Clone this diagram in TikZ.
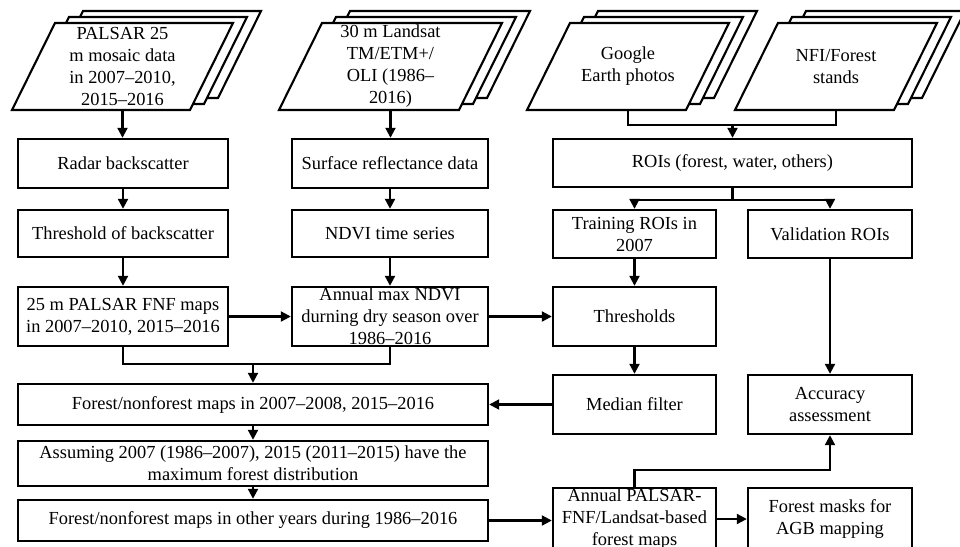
\documentclass[tikz,border=0pt]{standalone}
\usepackage{fontspec}
\setmainfont{Liberation Serif}
\usetikzlibrary{arrows.meta}
\newcommand\ff{\fontsize{9.2}{11}\selectfont}
% #1 name, #2 centre x of front sheet, #3 sheet width, #4 text
\newcommand\docstack[4]{%
  \foreach \k in {2,1,0}{%
    \draw[sheet] ({#2-#3/2+21.5+14*\k},{23-6*\k}) -- ++(#3,0) -- ++(-43,87) -- ++(-#3,0) -- cycle;}
  \node[stacktxt] (#1) at (#2,66.5) {#4};
}
\begin{document}
\begin{tikzpicture}[x=0.5pt,y=-0.5pt,
  box/.style={draw, line width=1.2pt, inner sep=0pt, align=center, font=\ff},
  ln/.style={line width=1.05pt},
  arr/.style={ln, -{Triangle[length=5pt,width=5pt]}},
  sheet/.style={draw, fill=white, line width=1.05pt},
  stacktxt/.style={inner sep=0pt, align=center, font=\ff, minimum height=43.5pt}]
\useasboundingbox (0,0) rectangle (960,547);
\clip (0,0) rectangle (960,547);

\docstack{palsar}{122.5}{178}{PALSAR 25\\m mosaic data\\in 2007–2010,\\2015–2016}
\docstack{landsat}{390.5}{180}{30 m Landsat\\TM/ETM+/\\OLI (1986–\\2016)}
\docstack{google}{628}{159}{Google\\Earth photos}
\docstack{nfi}{836}{159}{NFI/Forest\\stands}

\node[box, minimum width=105pt, minimum height=24.5pt] (radar) at (123,163.5) {Radar backscatter};
\node[box, minimum width=105pt, minimum height=23.5pt] (thb) at (123,233.5) {Threshold of backscatter};
\node[box, minimum width=105pt, minimum height=29.5pt] (fnf) at (123,316.5) {25 m PALSAR FNF maps\\in 2007–2010, 2015–2016};

\node[box, minimum width=98pt, minimum height=24.5pt] (sr) at (390,163.5) {Surface reflectance data};
\node[box, minimum width=98pt, minimum height=23.5pt] (ndvi) at (390,233.5) {NDVI time series};
\node[box, minimum width=98pt, minimum height=29.5pt,
      label={[align=center, font=\ff, inner sep=0pt]center:Annual max NDVI\\durning dry season over\\1986–2016}] (annmax) at (390,316.5) {};

\node[box, minimum width=179.5pt, minimum height=24pt] (rois) at (732.5,163) {ROIs (forest, water, others)};
\node[box, minimum width=81.5pt, minimum height=24pt] (train) at (634.5,234) {Training ROIs in\\2007};
\node[box, minimum width=82pt, minimum height=24pt] (valid) at (830,234) {Validation ROIs};
\node[box, minimum width=81.5pt, minimum height=29.5pt] (thr) at (634.5,316.5) {Thresholds};
\node[box, minimum width=81.5pt, minimum height=29.5pt] (median) at (634.5,404.5) {Median filter};
\node[box, minimum width=82pt, minimum height=29.5pt] (acc) at (830,404.5) {Accuracy\\assessment};
\node[box, minimum width=81.5pt, minimum height=31pt] (annpal) at (634.5,519) {Annual PALSAR-\\FNF/Landsat-based\\forest maps};
\node[box, minimum width=82pt, minimum height=31pt] (masks) at (830,519) {Forest masks for\\AGB mapping};

\node[box, minimum width=235pt, minimum height=20.5pt] (fnfall) at (253,404.5) {Forest/nonforest maps in 2007–2008, 2015–2016};
\node[box, minimum width=235pt, minimum height=22.5pt] (assume) at (253,463.5) {Assuming 2007 (1986–2007), 2015 (2011–2015) have the\\maximum forest distribution};
\node[box, minimum width=235pt, minimum height=20.5pt] (other) at (253,520.5) {Forest/nonforest maps in other years during 1986–2016};

% connectors
\draw[arr] (palsar.south) -- (palsar.south |- radar.north);
\draw[arr] (radar) -- (thb);
\draw[arr] (thb) -- (fnf);
\draw[arr] (landsat.south) -- (landsat.south |- sr.north);
\draw[arr] (sr) -- (ndvi);
\draw[arr] (ndvi) -- (annmax);

\path (rois.north) ++(0,-13) coordinate (j1);
\draw[ln] (google.south) |- (j1) -| (nfi.south);
\draw[arr] (j1) -- (rois.north);

\path (rois.south) ++(0,12) coordinate (j2);
\draw[ln] (rois.south) -- (j2);
\draw[arr] (j2) -| (train.north);
\draw[arr] (j2) -| (valid.north);
\draw[arr] (train) -- (thr);
\draw[arr] (valid) -- (acc);
\draw[arr] (thr) -- (median);

\draw[arr] (fnf.east) -- (annmax.west);
\draw[arr] (annmax.east) -- (thr.west);

\path (fnfall.north) ++(0,-19) coordinate (j3);
\draw[ln] (fnf.south) |- (j3) -| (annmax.south);
\draw[arr] (j3) -- (fnfall.north);
\draw[arr] (median.west) -- (fnfall.east);
\draw[arr] (fnfall) -- (assume);
\draw[arr] (assume) -- (other);
\draw[arr] (other.east) -- (other.east -| annpal.west);

\path (acc.south) ++(0,35) coordinate (j4);
\draw[arr] (annpal.north) |- (j4) -- (acc.south);
\draw[arr] (annpal.east) -- (masks.west);
\end{tikzpicture}
\end{document}
